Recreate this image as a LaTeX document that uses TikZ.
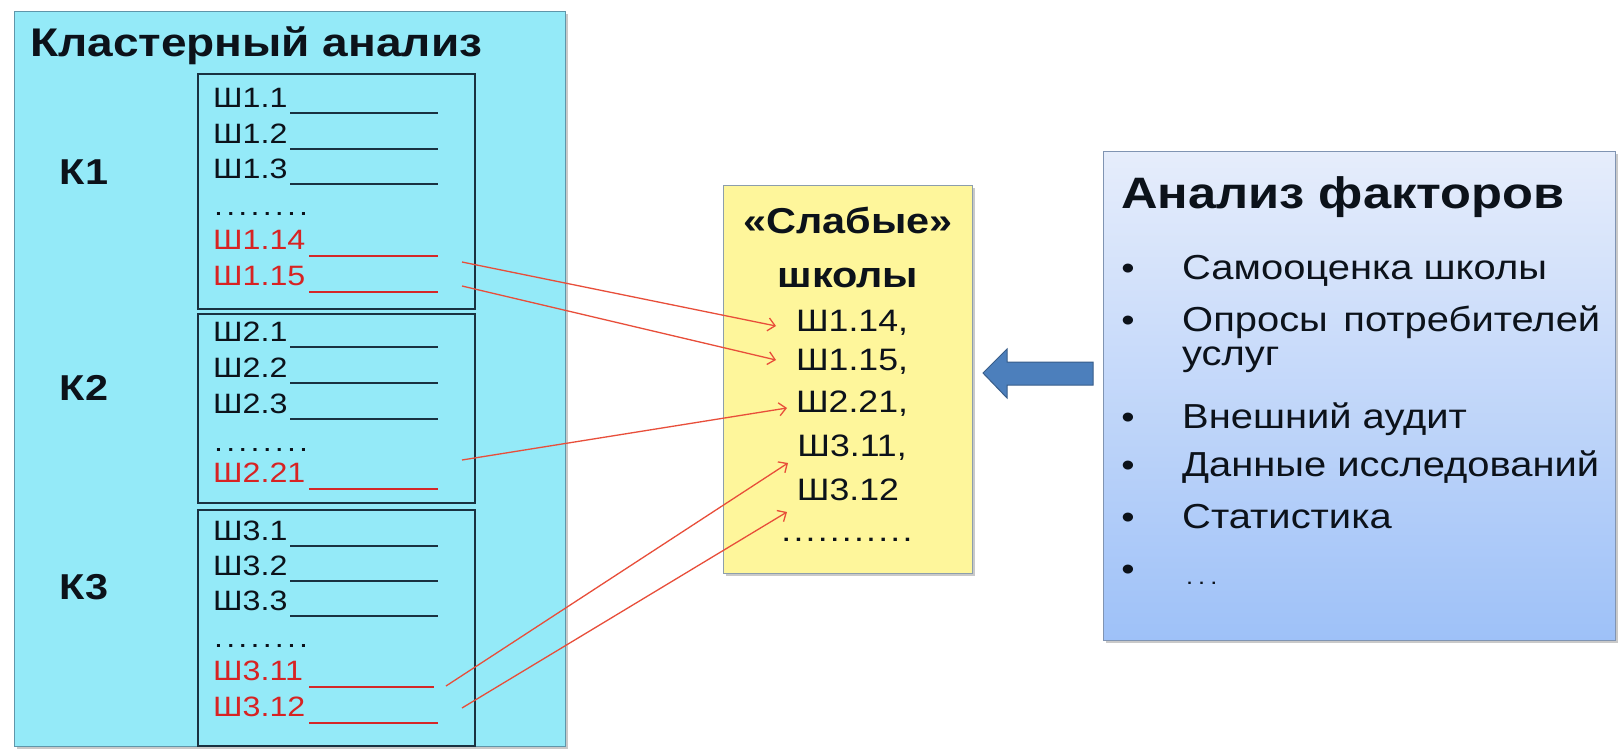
\documentclass[tikz,border=0pt]{standalone}
\usepackage{fontspec}
\usepackage{graphicx}
\setmainfont{Liberation Sans}[FakeStretch=1.15]
\usetikzlibrary{arrows.meta,shadows}
\definecolor{cyanbg}{RGB}{148,234,248}
\definecolor{cyanbd}{RGB}{95,150,170}
\definecolor{boxbd}{RGB}{25,50,65}
\definecolor{txtdark}{RGB}{12,18,26}
\definecolor{redtxt}{RGB}{215,35,35}
\definecolor{redln}{RGB}{212,40,40}
\definecolor{arrred}{RGB}{232,78,58}
\definecolor{yelbg}{RGB}{254,246,155}
\definecolor{yelbd}{RGB}{140,158,172}
\definecolor{rtop}{RGB}{230,237,251}
\definecolor{rbot}{RGB}{158,193,248}
\definecolor{rbd}{RGB}{128,148,178}
\definecolor{barrow}{RGB}{76,127,188}
\definecolor{barrowbd}{RGB}{56,93,138}
\newcommand\spdots[2]{\foreach \i in {1,...,#1}{.\kern#2}}
\tikzset{
  panel/.style={anchor=north west, inner sep=0pt, outer sep=0pt},
  shadowed/.style={drop shadow={shadow xshift=3pt, shadow yshift=-3pt, opacity=0.35, fill=black!60}},
  ttl/.style={anchor=base west, inner sep=0pt, font=\fontsize{40}{44}\selectfont\bfseries, text=txtdark},
  klabel/.style={anchor=center, inner sep=0pt, font=\fontsize{36}{40}\selectfont\bfseries, text=txtdark},
  item/.style={anchor=base west, inner sep=0pt, font=\fontsize{28}{32}\selectfont, text=txtdark},
  reditem/.style={item, text=redtxt},
  uline/.style={line width=2.4pt, draw=boxbd},
  redline/.style={line width=2.4pt, draw=redln},
  ytitle/.style={anchor=base, inner sep=0pt, font=\fontsize{36}{40}\selectfont\bfseries, text=txtdark},
  yitem/.style={anchor=base, inner sep=0pt, font=\fontsize{31}{34}\selectfont, text=txtdark},
  rtitle/.style={anchor=base west, inner sep=0pt, font=\fontsize{44}{48}\selectfont\bfseries, text=txtdark},
  ritem/.style={anchor=base west, inner sep=0pt, font=\fontsize{34.7}{40}\selectfont, text=txtdark},
  bullet/.style={anchor=base, inner sep=0pt, font=\fontsize{33}{38}\selectfont, text=txtdark},
  redarrow/.style={draw=arrred, line width=1.3pt, -{Straight Barb[length=7pt,width=13pt,line width=1.3pt]}},
}
\begin{document}
\begin{tikzpicture}[x=1pt,y=-1pt]
\useasboundingbox (0,0) rectangle (1623,755);
\fill[white] (0,0) rectangle (1623,755);

% ---------- left panel ----------
\node[panel, shadowed, draw=cyanbd, fill=cyanbg, line width=1pt,
      minimum width=551pt, minimum height=735pt] (clust) at (14,11) {};
\node[ttl] (ttl) at (30,56) {Кластерный анализ};

\node[panel, draw=boxbd, line width=1.6pt, minimum width=277pt, minimum height=235pt] (k1box) at (198,74) {};
\node[panel, draw=boxbd, line width=1.6pt, minimum width=277pt, minimum height=189pt] (k2box) at (198,314) {};
\node[panel, draw=boxbd, line width=1.6pt, minimum width=277pt, minimum height=236pt] (k3box) at (198,510) {};

\node[klabel] (k1) at (84,172) {К1};
\node[klabel] (k2) at (84,388) {К2};
\node[klabel] (k3) at (84,587) {К3};

% K1 list
\node[item] (a11) at (213,107) {Ш1.1};
\node[item] (a12) at (213,143) {Ш1.2};
\node[item] (a13) at (213,178) {Ш1.3};
\node[item] (a1d) at (214,215) {\spdots{8}{3.2pt}};
\node[reditem] (a114) at (213,249) {Ш1.14};
\node[reditem] (a115) at (213,285) {Ш1.15};
\draw[uline] (290,113) -- (438,113);
\draw[uline] (290,149) -- (438,149);
\draw[uline] (290,184) -- (438,184);
\draw[redline] (309,256) -- (438,256);
\draw[redline] (309,292) -- (438,292);

% K2 list
\node[item] (a21) at (213,341) {Ш2.1};
\node[item] (a22) at (213,377) {Ш2.2};
\node[item] (a23) at (213,413) {Ш2.3};
\node[item] (a2d) at (214,451) {\spdots{8}{3.2pt}};
\node[reditem] (a221) at (213,482) {Ш2.21};
\draw[uline] (290,347) -- (438,347);
\draw[uline] (290,383) -- (438,383);
\draw[uline] (290,419) -- (438,419);
\draw[redline] (309,489) -- (438,489);

% K3 list
\node[item] (a31) at (213,540) {Ш3.1};
\node[item] (a32) at (213,575) {Ш3.2};
\node[item] (a33) at (213,610) {Ш3.3};
\node[item] (a3d) at (214,647) {\spdots{8}{3.2pt}};
\node[reditem] (a311) at (213,680) {Ш3.11};
\node[reditem] (a312) at (213,716) {Ш3.12};
\draw[uline] (290,546) -- (438,546);
\draw[uline] (290,581) -- (438,581);
\draw[uline] (290,616) -- (438,616);
\draw[redline] (309,687) -- (434,687);
\draw[redline] (309,723) -- (438,723);

% ---------- middle panel ----------
\node[panel, shadowed, draw=yelbd, fill=yelbg, line width=1pt,
      minimum width=249pt, minimum height=388pt] (weak) at (723,185) {};
\node[ytitle] (wt1) at (848,233) {«Слабые»};
\node[ytitle] (wt2) at (848,287) {школы};
\node[yitem] (w1) at (852,331) {Ш1.14,};
\node[yitem] (w2) at (852,370) {Ш1.15,};
\node[yitem] (w3) at (852,412) {Ш2.21,};
\node[yitem] (w4) at (852,456) {Ш3.11,};
\node[yitem] (w5) at (848,500) {Ш3.12};
\node[yitem] (w6) at (848,541) {\spdots{11}{2.2pt}};

% red connectors
\coordinate (s1) at (462,262); \coordinate (t1) at (776,326);
\coordinate (s2) at (462,286); \coordinate (t2) at (776,360);
\coordinate (s3) at (462,460); \coordinate (t3) at (787,408);
\coordinate (s4) at (446,686); \coordinate (t4) at (788,463);
\coordinate (s5) at (462,708); \coordinate (t5) at (787,512);
\draw[redarrow] (s1) -- (t1);
\draw[redarrow] (s2) -- (t2);
\draw[redarrow] (s3) -- (t3);
\draw[redarrow] (s4) -- (t4);
\draw[redarrow] (s5) -- (t5);

% ---------- right panel ----------
\node[panel, shadowed, draw=rbd, top color=rtop, bottom color=rbot, line width=1pt,
      minimum width=512pt, minimum height=489pt] (factors) at (1103,151) {};
\node[rtitle] (ft) at (1121,208) {Анализ факторов};
\node[bullet] (b1) at (1128,279) {•};
\node[bullet] (b2) at (1128,331) {•};
\node[bullet] (b3) at (1128,428) {•};
\node[bullet] (b4) at (1128,476) {•};
\node[bullet] (b5) at (1128,528) {•};
\node[bullet] (b6) at (1128,580) {•};
\node[ritem] (f1) at (1182,279) {Самооценка школы};
\node[ritem] (f2) at (1182,331) {\makebox[418pt][s]{Опросы потребителей}};
\node[ritem] (f2b) at (1182,365) {услуг};
\node[ritem] (f3) at (1182,428) {Внешний аудит};
\node[ritem] (f4) at (1182,476) {Данные исследований};
\node[ritem] (f5) at (1182,528) {Статистика};
\node[ritem, font=\fontsize{22}{26}\selectfont] (f6) at (1186,584) {\spdots{3}{5pt}};

% blue block arrow
\filldraw[fill=barrow, draw=barrowbd, line width=1pt]
  (983,373) -- (1007,349) -- (1007,362) -- (1093,362) -- (1093,385)
  -- (1007,385) -- (1007,398) -- cycle;
\end{tikzpicture}
\end{document}
